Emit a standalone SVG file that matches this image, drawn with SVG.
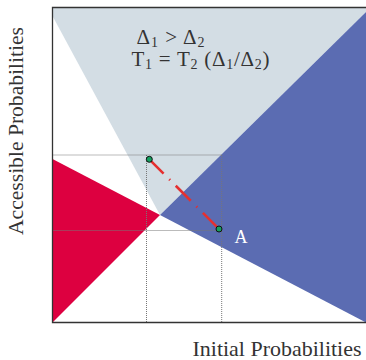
<svg xmlns="http://www.w3.org/2000/svg" width="366" height="360" viewBox="0 0 366 360">
<style>
.lbl{font-family:"Liberation Serif","DejaVu Serif",serif;fill:#333}
.eq{font-family:"Liberation Serif","DejaVu Serif",serif;fill:#333;font-size:21px}
.sub{font-size:14px}
.guide{fill:none;stroke:#777;stroke-width:1;stroke-dasharray:1 1}
.dot{fill:#14a060;stroke:#111;stroke-width:1}
</style>
<rect width="366" height="360" fill="#fff"/>
<g id="regions">
<polygon id="gray" points="52.5,7.5 366,7.5 366,12 160,215 52.5,16" fill="#d3dde4"/>
<polygon id="red" points="52.5,159 160,215 52.5,322.5" fill="#dd0040"/>
<polygon id="blue" points="160,215 366,12 366,322.5" fill="#5b6cb2"/>
</g>
<g id="guides">
<path class="guide" d="M52.5,155 H221.7 M52.5,230.5 H221.7 M146.5,155 V322.5 M221.7,155 V322.5"/>
</g>
<path id="frame" d="M366,7.5 H52.5 V322.5 H366" fill="none" stroke="#333" stroke-width="1.3"/>
<g id="connectors">
<line x1="149.3" y1="159.3" x2="219" y2="229" stroke="#e53030" stroke-width="2.6" stroke-dasharray="21.2 8 1.2 8" stroke-dashoffset="1"/>
</g>
<g id="points">
<circle class="dot" cx="149.3" cy="159.3" r="3"/>
<circle class="dot" cx="219" cy="229" r="3"/>
</g>
<g id="equations">
<text class="eq" x="136.5" y="44" textLength="68" lengthAdjust="spacing">Δ<tspan class="sub" dy="3">1</tspan><tspan dy="-3"> &gt; Δ</tspan><tspan class="sub" dy="3">2</tspan></text>
<text class="eq" x="131.5" y="66" textLength="138" lengthAdjust="spacing">T<tspan class="sub" dy="3">1</tspan><tspan dy="-3"> = T</tspan><tspan class="sub" dy="3">2</tspan><tspan dy="-3"> (Δ</tspan><tspan class="sub" dy="3">1</tspan><tspan dy="-3">/Δ</tspan><tspan class="sub" dy="3">2</tspan><tspan dy="-3">)</tspan></text>
</g>
<text id="labelA" x="234.5" y="243" font-family="Liberation Serif, DejaVu Serif, serif" font-size="18" fill="#fff">A</text>
<text id="xlabel" class="lbl" x="192.5" y="356" font-size="21" textLength="169" lengthAdjust="spacingAndGlyphs">Initial Probabilities</text>
<text id="ylabel" class="lbl" transform="translate(23,235) rotate(-90)" font-size="21" textLength="208" lengthAdjust="spacingAndGlyphs">Accessible Probabilities</text>
</svg>
